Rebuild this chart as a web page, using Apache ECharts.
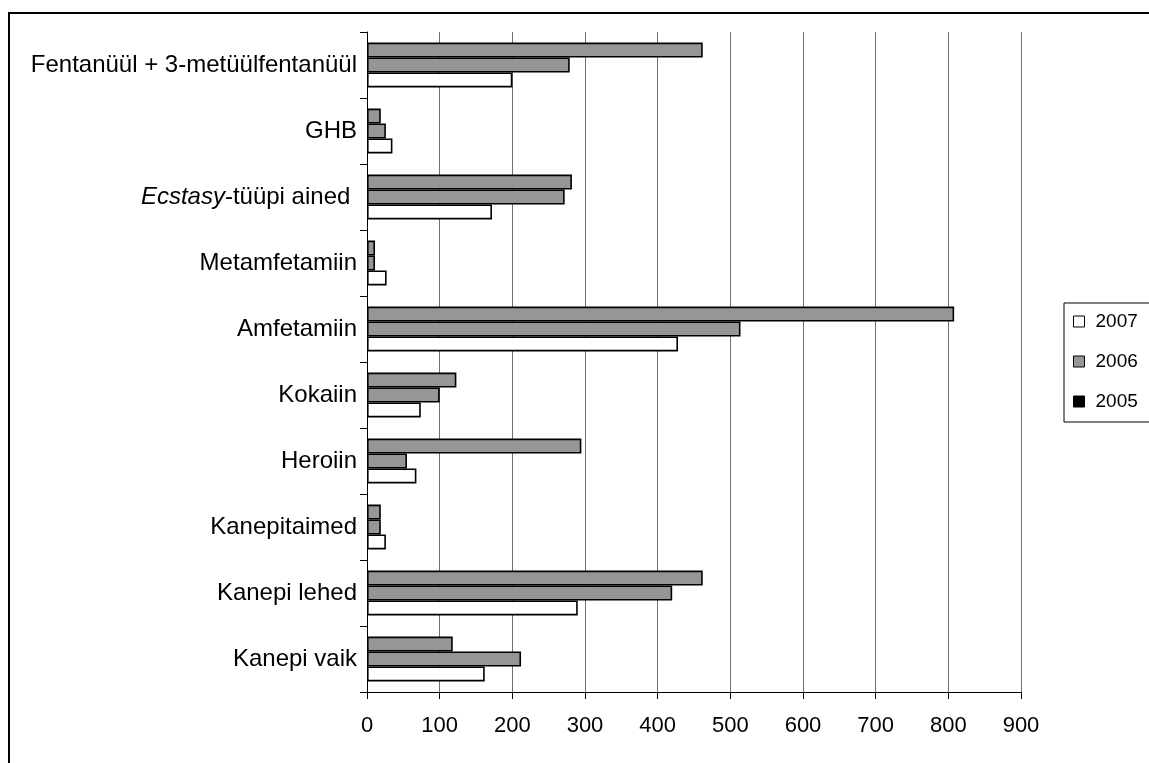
<!DOCTYPE html>
<html>
<head>
<meta charset="utf-8">
<script src="https://cdn.jsdelivr.net/npm/echarts@6/dist/echarts.min.js"></script>
<style>
  html, body { margin: 0; padding: 0; background: #fff; }
  #chart { width: 1149px; height: 763px; }
</style>
</head>
<body>
<div id="chart"></div>
<script>
// Seized drug quantities by substance, three years
const categories = [
  'Fentanüül + 3-metüülfentanüül',
  'GHB',
  '{i|Ecstasy}-tüüpi ained ',
  'Metamfetamiin',
  'Amfetamiin',
  'Kokaiin',
  'Heroiin',
  'Kanepitaimed',
  'Kanepi lehed',
  'Kanepi vaik'
];
const values2005 = [462, 19, 282, 11, 808, 123, 295, 19, 462, 118];
const values2006 = [279, 26, 272, 11, 514, 100, 55, 19, 420, 212];
const values2007 = [200, 35, 172, 27, 428, 74, 68, 26, 290, 162];
const xTicks = { min: 0, max: 900, interval: 100 };

const font = 'Liberation Sans, Arial, sans-serif';
const GRAY = '#969696';

const barStyle = (fill) => ({ color: fill, borderColor: '#000', borderWidth: 1.6 });

const chart = echarts.init(document.getElementById('chart'), null, { renderer: 'canvas' });
chart.setOption({
  animation: false,
  backgroundColor: '#fff',
  textStyle: { fontFamily: font },
  graphic: [{
    type: 'rect',
    shape: { x: 9, y: 13, width: 1200, height: 800 },
    style: { fill: 'none', stroke: '#000', lineWidth: 2 },
    silent: true
  }],
  grid: { left: 367, right: 128, top: 32, bottom: 71, containLabel: false },
  legend: {
    orient: 'vertical',
    left: 1064,
    top: 303,
    padding: [9, 40, 11, 9],
    itemWidth: 11,
    itemHeight: 11,
    itemGap: 21,
    borderColor: '#000',
    borderWidth: 1,
    textStyle: { fontFamily: font, fontSize: 19, color: '#000', padding: [0, 0, 0, 6] },
    data: [
      { name: '2007', icon: 'rect', itemStyle: { color: '#fff', borderColor: '#000', borderWidth: 1 } },
      { name: '2006', icon: 'rect', itemStyle: { color: GRAY, borderColor: '#000', borderWidth: 1 } },
      { name: '2005', icon: 'rect', itemStyle: { color: '#000', borderColor: '#000', borderWidth: 1 } }
    ]
  },
  xAxis: {
    type: 'value',
    min: xTicks.min,
    max: xTicks.max,
    interval: xTicks.interval,
    axisLine: { show: true, lineStyle: { color: '#000', width: 1 } },
    axisTick: { show: true, length: 7, lineStyle: { color: '#000' } },
    axisLabel: { color: '#000', fontSize: 22, margin: 23, fontFamily: font },
    splitLine: { show: true, lineStyle: { color: '#707070', width: 1 } }
  },
  yAxis: {
    type: 'category',
    inverse: true,
    data: categories,
    axisLine: { show: true, lineStyle: { color: '#000', width: 1 } },
    axisTick: { show: true, length: 7, lineStyle: { color: '#000' } },
    axisLabel: {
      color: '#000', fontSize: 24, margin: 10, fontFamily: font,
      rich: { i: { fontStyle: 'italic', fontSize: 24, color: '#000', fontFamily: font } }
    },
    splitLine: { show: false }
  },
  series: [
    { name: '2005', type: 'bar', data: values2005, barGap: '0%', barCategoryGap: '32%', itemStyle: barStyle(GRAY) },
    { name: '2006', type: 'bar', data: values2006, barGap: '0%', barCategoryGap: '32%', itemStyle: barStyle(GRAY) },
    { name: '2007', type: 'bar', data: values2007, barGap: '0%', barCategoryGap: '32%', itemStyle: barStyle('#fff') }
  ]
});
</script>
</body>
</html>
